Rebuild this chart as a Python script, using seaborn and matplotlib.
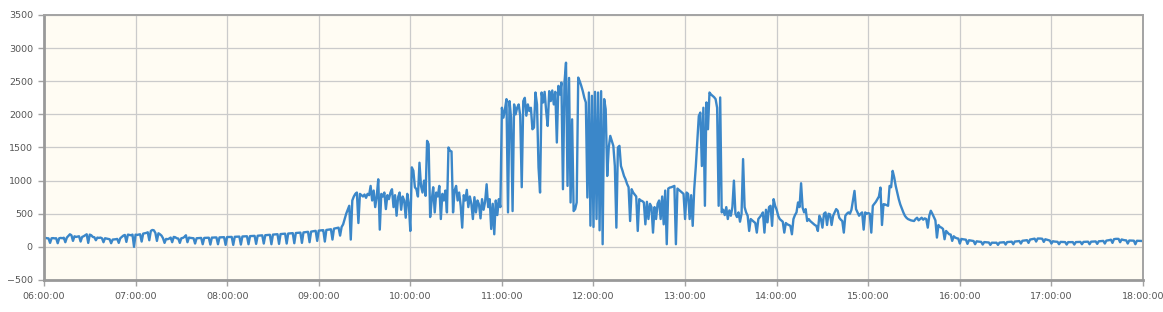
import matplotlib
matplotlib.use("Agg")
import matplotlib.pyplot as plt
import matplotlib.dates as mdates
import pandas as pd
import seaborn as sns

# ---- data: one reading per minute, 06:00 .. 18:00 ----
h06 = [130, 135, 130, 128, 60, 130, 132, 128, 130, 55, 130, 135, 130, 138, 70,
       140, 165, 190, 175, 90, 160, 150, 155, 160, 80, 150, 160, 175, 190, 60,
       185, 175, 150, 145, 100, 140, 135, 140, 130, 70, 130, 125, 120, 115, 55,
       110, 112, 115, 120, 60, 130, 150, 170, 180, 75, 185, 180, 175, 185, 0]
h07 = [185, 180, 185, 190, 80, 200, 205, 210, 220, 100, 240, 255, 250, 210, 90,
       205, 190, 170, 130, 60, 120, 115, 125, 140, 70, 150, 145, 130, 125, 60,
       130, 135, 150, 175, 70, 140, 135, 132, 130, 50, 130, 132, 135, 135, 40,
       135, 136, 137, 138, 35, 140, 140, 142, 142, 40, 143, 144, 145, 146, 30]
h08 = [148, 149, 150, 150, 30, 152, 153, 154, 155, 35, 157, 158, 159, 160, 40,
       162, 163, 165, 166, 45, 168, 170, 172, 174, 50, 176, 178, 180, 182, 40,
       185, 187, 189, 191, 45, 193, 195, 197, 199, 50, 201, 203, 205, 207, 55,
       209, 211, 213, 215, 60, 218, 221, 224, 227, 70, 230, 234, 238, 242, 90]
h09 = [245, 248, 250, 252, 80, 255, 258, 262, 266, 110, 275, 280, 285, 290, 170,
       300, 340, 420, 500, 560, 620, 110, 700, 760, 800, 820, 360, 800, 780, 760,
       790, 740, 800, 780, 920, 700, 850, 600, 760, 1020, 260, 800, 760, 820, 570,
       780, 720, 820, 870, 600, 780, 470, 750, 820, 560, 760, 700, 440, 800, 650]
h10 = [240, 1200, 1150, 900, 870, 760, 1270, 920, 820, 1000, 770, 1600, 1550, 450, 700,
       900, 520, 820, 760, 920, 420, 800, 700, 850, 520, 1500, 1450, 1440, 520, 850,
       920, 700, 820, 620, 290, 780, 700, 860, 600, 760, 650, 420, 750, 520, 700,
       640, 430, 720, 560, 680, 945, 600, 720, 270, 650, 190, 700, 480, 720, 600]
h11 = [2100, 1950, 2075, 2230, 520, 2200, 1950, 540, 2150, 2000, 2100, 2150, 1980, 900, 2200,
       2250, 1980, 2150, 2050, 2100, 1775, 1800, 2330, 2150, 1200, 820, 2330, 2180, 2340, 2050,
       1825, 2350, 2200, 2360, 2150, 2340, 1575, 2430, 2300, 2480, 870, 2480, 2780, 920, 2550,
       670, 1925, 540, 570, 670, 2555, 2500, 2430, 2350, 2250, 2180, 745, 2330, 320, 2280]
h12 = [300, 2340, 420, 2330, 250, 2350, 40, 2230, 2077, 1070, 1500, 1675, 1600, 1525, 1220,
       290, 1500, 1525, 1220, 1150, 1070, 1020, 950, 900, 390, 870, 820, 790, 760, 240,
       720, 700, 690, 670, 340, 680, 420, 650, 600, 215, 600, 420, 650, 700, 420,
       760, 340, 850, 40, 880, 895, 900, 910, 920, 40, 880, 860, 840, 820, 800]
h13 = [420, 820, 800, 420, 780, 317, 870, 1200, 1600, 1975, 2027, 1220, 2100, 620, 2180,
       1775, 2330, 2300, 2280, 2260, 2230, 2100, 620, 2255, 520, 560, 480, 600, 420, 550,
       470, 600, 1000, 500, 450, 520, 380, 500, 1325, 600, 520, 470, 240, 420, 400,
       380, 360, 215, 420, 450, 480, 520, 215, 560, 370, 600, 620, 317, 720, 620]
h14 = [560, 470, 420, 400, 380, 215, 360, 340, 330, 317, 190, 420, 480, 520, 670,
       600, 960, 594, 520, 570, 390, 420, 390, 370, 350, 330, 317, 240, 470, 420,
       290, 500, 520, 330, 500, 490, 330, 470, 520, 570, 545, 440, 410, 390, 215,
       470, 500, 520, 500, 560, 700, 845, 570, 520, 470, 500, 520, 260, 520, 500]
h15 = [510, 500, 215, 620, 650, 680, 720, 760, 895, 330, 645, 640, 630, 620, 920,
       900, 1147, 1050, 920, 820, 720, 640, 580, 520, 470, 440, 420, 410, 400, 395,
       390, 420, 440, 400, 420, 440, 410, 430, 420, 290, 470, 545, 500, 450, 400,
       140, 330, 300, 290, 270, 115, 240, 215, 190, 186, 90, 160, 140, 130, 125]
h16 = [50, 120, 115, 112, 108, 45, 100, 96, 92, 88, 40, 84, 80, 78, 75,
       35, 72, 70, 68, 66, 30, 63, 62, 62, 63, 30, 64, 66, 68, 70,
       35, 72, 74, 76, 78, 40, 80, 82, 85, 88, 50, 92, 95, 98, 101,
       60, 110, 115, 120, 124, 80, 126, 126, 125, 122, 75, 115, 108, 100, 95]
h17 = [50, 85, 80, 78, 76, 40, 75, 74, 73, 72, 35, 72, 71, 72, 72,
       35, 72, 73, 74, 75, 40, 75, 76, 77, 78, 40, 78, 79, 80, 82,
       45, 84, 86, 88, 90, 50, 94, 98, 102, 108, 60, 116, 120, 121, 120,
       70, 112, 105, 100, 98, 50, 96, 95, 94, 93, 40, 92, 91, 90, 90]
h18 = [88]

values = h06 + h07 + h08 + h09 + h10 + h11 + h12 + h13 + h14 + h15 + h16 + h17 + h18
times = pd.date_range("2020-01-01 06:00", periods=len(values), freq="min")
df = pd.DataFrame({"time": times, "value": values})

y_ticks = [-500, 0, 500, 1000, 1500, 2000, 2500, 3000, 3500]

LINE = "#3b87c9"
BG = "#fffcf3"
GRID = "#cbcbcb"
SPINE = "#a3a3a3"
TEXT = "#555555"

fig = plt.figure(figsize=(11.63, 3.12), dpi=100)
ax = fig.add_axes([0.0378, 0.1026, 0.945, 0.8494])

sns.lineplot(data=df, x="time", y="value", ax=ax, color=LINE,
             linewidth=1.7, estimator=None)

ax.set_xlim(times[0], times[-1])
ax.set_ylim(-500, 3500)
ax.set_yticks(y_ticks)
ax.xaxis.set_major_locator(mdates.HourLocator())
ax.xaxis.set_major_formatter(mdates.DateFormatter("%H:%M:%S"))

ax.set_facecolor(BG)
ax.grid(True, color=GRID, linewidth=0.9)
ax.set_axisbelow(True)
ax.set_xlabel("")
ax.set_ylabel("")

for side in ["top", "right"]:
    ax.spines[side].set_color(SPINE)
    ax.spines[side].set_linewidth(1.4)
for side in ["left", "bottom"]:
    ax.spines[side].set_color("#999999")
    ax.spines[side].set_linewidth(2.0)

ax.tick_params(axis="both", colors=SPINE, length=4, width=1, labelsize=6.8,
               labelcolor=TEXT)
ax.tick_params(axis="x", pad=5)
ax.tick_params(axis="y", pad=4)

fig.savefig("out.png", dpi=100, facecolor="white")
